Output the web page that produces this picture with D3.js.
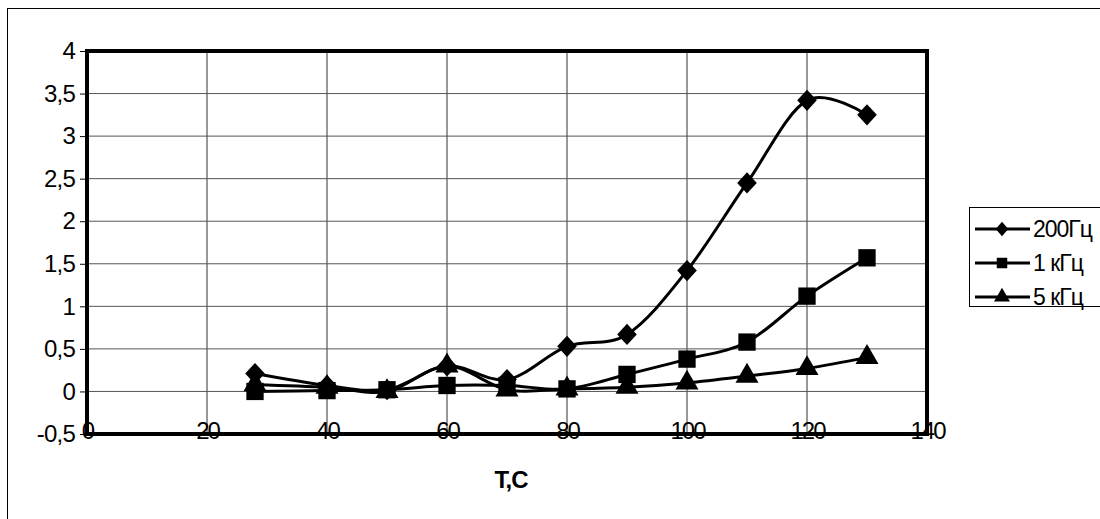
<!doctype html>
<html>
<head>
<meta charset="utf-8">
<script src="https://cdnjs.cloudflare.com/ajax/libs/d3/7.8.5/d3.min.js"></script>
<style>
  body { margin: 0; background: #fff; }
  svg text { font-family: "Liberation Sans", Arial, sans-serif; fill: #000; }
</style>
</head>
<body>
<svg id="chart" width="1100" height="519"></svg>
<script>
  // temperature, C
  var temps = [28, 40, 50, 60, 70, 80, 90, 100, 110, 120, 130];
  var f200 = [0.21, 0.07, 0.02, 0.3, 0.14, 0.53, 0.67, 1.42, 2.45, 3.42, 3.25];
  var f1k = [0.0, 0.01, 0.02, 0.07, 0.07, 0.03, 0.2, 0.38, 0.58, 1.12, 1.57];
  var f5k = [0.08, 0.05, 0.0, 0.3, 0.02, 0.03, 0.05, 0.1, 0.18, 0.27, 0.4];
  var seriesNames = ["200Гц", "1 кГц", "5 кГц"];
  var xTicks = [0, 20, 40, 60, 80, 100, 120, 140];
  var yTicks = [-0.5, 0, 0.5, 1, 1.5, 2, 2.5, 3, 3.5, 4];

  var svg = d3.select("#chart");

  // outer chart border (runs past the picture on right / bottom)
  svg.append("rect").attr("x", 7.5).attr("y", 8.5).attr("width", 1200).attr("height", 600)
    .attr("fill", "none").attr("stroke", "#000").attr("stroke-width", 1);

  var x = d3.scaleLinear().domain([0, 140]).range([87, 927]);
  var y = d3.scaleLinear().domain([-0.5, 4]).range([434, 51]);

  var comma = function(v) { return String(v).replace(".", ","); };

  // grid
  svg.append("g").selectAll("line").data(xTicks.slice(1, -1)).enter().append("line")
    .attr("x1", d => x(d)).attr("x2", d => x(d)).attr("y1", y(4)).attr("y2", y(-0.5))
    .attr("stroke", "#333").attr("stroke-width", 1);
  svg.append("g").selectAll("line").data(yTicks.slice(1, -1)).enter().append("line")
    .attr("x1", x(0)).attr("x2", x(140)).attr("y1", d => y(d)).attr("y2", d => y(d))
    .attr("stroke", "#555").attr("stroke-width", 1);

  // y axis
  var yAxis = svg.append("g").attr("transform", "translate(" + x(0) + ",0)")
    .call(d3.axisLeft(y).tickValues(yTicks).tickSize(7).tickPadding(5).tickFormat(comma));
  yAxis.select(".domain").remove();
  yAxis.selectAll("text").style("font-size", "24px").style("letter-spacing", "-0.8px");

  // x axis, labels sit on top of the axis line
  var xAxis = svg.append("g").attr("transform", "translate(0," + y(-0.5) + ")")
    .call(d3.axisBottom(x).tickValues(xTicks).tickSize(0).tickPadding(0).tickFormat(d3.format("d")));
  xAxis.select(".domain").remove();
  xAxis.selectAll("text").attr("y", -3).attr("dy", "0.35em")
    .style("font-size", "24px").style("letter-spacing", "-2px");

  // plot frame
  svg.append("rect").attr("x", x(0)).attr("y", y(4)).attr("width", x(140) - x(0)).attr("height", y(-0.5) - y(4))
    .attr("fill", "none").attr("stroke", "#000").attr("stroke-width", 4);

  svg.append("text").attr("x", 511).attr("y", 488).attr("text-anchor", "middle")
    .style("font-size", "24px").style("font-weight", "bold").style("letter-spacing", "-1px").text("T,C");

  var series = [f200, f1k, f5k];
  var shapes = [d3.symbolDiamond, d3.symbolSquare, d3.symbolTriangle];
  var sizes = [130, 300, 230];

  var line = d3.line().x((d, i) => x(temps[i])).y(d => y(d)).curve(d3.curveCardinal.tension(0));

  series.forEach(function(vals, k) {
    svg.append("path").datum(vals).attr("d", line)
      .attr("fill", "none").attr("stroke", "#000").attr("stroke-width", 3);
  });
  series.forEach(function(vals, k) {
    var sym = d3.symbol().type(shapes[k]).size(sizes[k]);
    svg.append("g").selectAll("path").data(vals).enter().append("path")
      .attr("d", sym)
      .attr("transform", (d, i) => "translate(" + x(temps[i]) + "," + y(d) + ")" + (k == 0 ? " scale(1.6,1)" : ""))
      .attr("fill", "#000");
  });

  // legend
  var lg = svg.append("g").attr("transform", "translate(969,207)");
  lg.append("rect").attr("x", 0.5).attr("y", 0.5).attr("width", 200).attr("height", 99)
    .attr("fill", "#fff").attr("stroke", "#000").attr("stroke-width", 1);
  var rows = lg.selectAll("g.row").data(seriesNames).enter().append("g")
    .attr("transform", (d, i) => "translate(0," + (22 + i * 34) + ")");
  rows.append("line").attr("x1", 6).attr("x2", 61).attr("stroke", "#000").attr("stroke-width", 3);
  rows.append("path")
    .attr("transform", (d, i) => "translate(33,0)" + (i == 0 ? " scale(1.5,1)" : ""))
    .attr("d", (d, i) => d3.symbol().type(shapes[i]).size(i == 0 ? 60 : 110)());
  rows.append("text").attr("x", 64).attr("dy", "0.35em")
    .style("font-size", "23px").style("letter-spacing", "-1px").text(d => d);
</script>
</body>
</html>
